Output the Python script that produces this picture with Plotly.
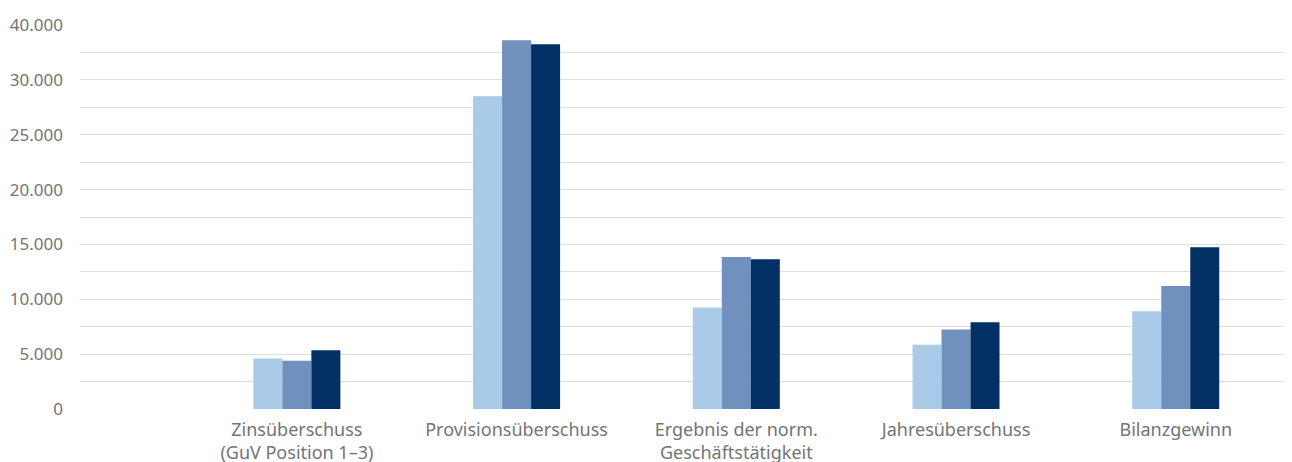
import plotly.graph_objects as go

categories = [
    "Zinsüberschuss<br>(GuV Position 1–3)",
    "Provisionsüberschuss",
    "Ergebnis der norm.<br>Geschäftstätigkeit",
    "Jahresüberschuss",
    "Bilanzgewinn",
]
series_names = ["Serie 1", "Serie 2", "Serie 3"]
series_1 = [4600, 28500, 9250, 5850, 8900]
series_2 = [4400, 33600, 13850, 7250, 11200]
series_3 = [5350, 33250, 13650, 7900, 14750]
colors = ["#a9cbe8", "#7090bd", "#003064"]

tick_vals = [0, 5000, 10000, 15000, 20000, 25000, 30000, 35000]
tick_text = ["0", "5.000", "10.000", "15.000", "20.000", "25.000", "30.000", "40.000"]

fig = go.Figure()
for name, vals, col in zip(series_names, [series_1, series_2, series_3], colors):
    fig.add_trace(go.Bar(x=categories, y=vals, name=name, marker=dict(color=col, line=dict(width=0))))

fig.update_layout(
    width=1284, height=454,
    margin=dict(l=72, r=2, t=17, b=53),
    paper_bgcolor="white", plot_bgcolor="white",
    barmode="group", bargap=0.604, bargroupgap=0,
    showlegend=False,
    font=dict(family="Noto Sans", size=17, color="#747474"),
)
fig.update_xaxes(
    type="category", range=[-0.987, 4.52],
    showgrid=False, zeroline=False, showline=False, ticks="",
    ticklabelstandoff=8, automargin=False,
    tickfont=dict(family="Noto Sans", size=18, color="#747474"),
)
fig.update_yaxes(
    range=[0, 35000], tickvals=tick_vals, ticktext=tick_text,
    showgrid=True, gridcolor="#dedede", gridwidth=1.2,
    minor=dict(dtick=2500, showgrid=True, gridcolor="#dedede", gridwidth=1.2),
    zeroline=False, showline=False, ticks="",
    ticklabelstandoff=16, automargin=False,
    tickfont=dict(family="Noto Sans", size=17, color="#747474"),
)
fig.write_html("out.html")
